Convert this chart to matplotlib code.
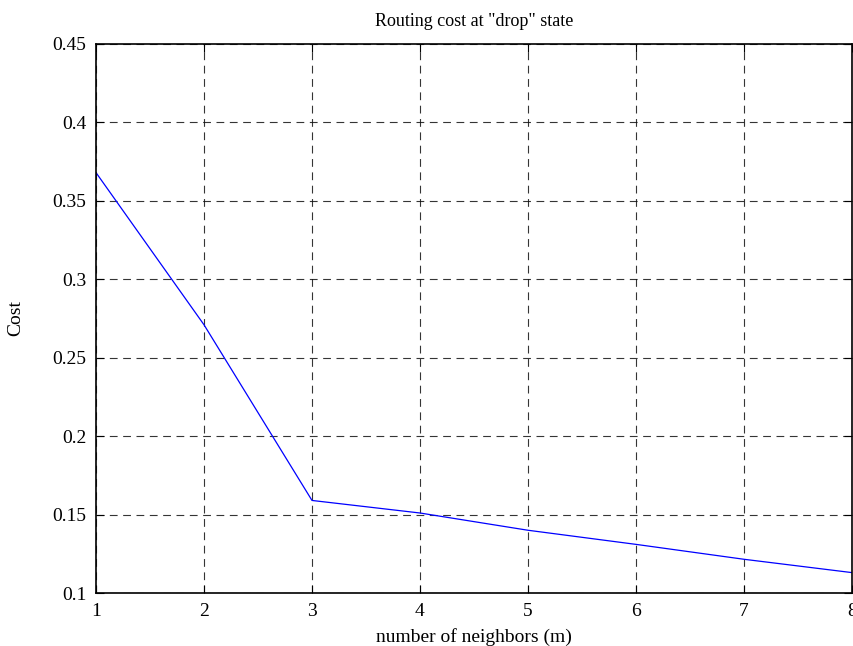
import matplotlib
matplotlib.use("Agg")
import matplotlib.pyplot as plt

neighbors = [1, 2, 3, 4, 5, 6, 7, 8]
cost = [0.368, 0.271, 0.159, 0.151, 0.140, 0.131, 0.1215, 0.113]
xticks = [1, 2, 3, 4, 5, 6, 7, 8]
yticks = [0.1, 0.15, 0.2, 0.25, 0.3, 0.35, 0.4, 0.45]
yticklabels = ["0.1", "0.15", "0.2", "0.25", "0.3", "0.35", "0.4", "0.45"]

plt.rcParams['font.family'] = ['Liberation Serif', 'DejaVu Serif']

fig = plt.figure(figsize=(8.54, 6.46), dpi=100)
ax = fig.add_axes([96/854, 53/646, (852-96)/854, (593-44)/646])
ax.plot(neighbors, cost, color='#0000ff', linewidth=0.9)
ax.set_xlim(1, 8)
ax.set_ylim(0.1, 0.45)
ax.set_xticks(xticks)
ax.set_yticks(yticks)
ax.set_yticklabels(yticklabels)
ax.grid(True, color='#111111', linestyle=(0, (7, 5)), linewidth=0.8, alpha=0.85)
ax.tick_params(direction='in', top=True, right=True, labelsize=14, length=6, width=0.8, pad=7)
for s in ax.spines.values():
    s.set_linewidth(1.2)
ax.set_title('Routing cost at "drop" state', fontsize=13, pad=13)
ax.set_xlabel('number of neighbors (m)', fontsize=14, labelpad=6)
ax.set_ylabel('Cost', fontsize=14, labelpad=20)
fig.savefig('out.png', dpi=100)
